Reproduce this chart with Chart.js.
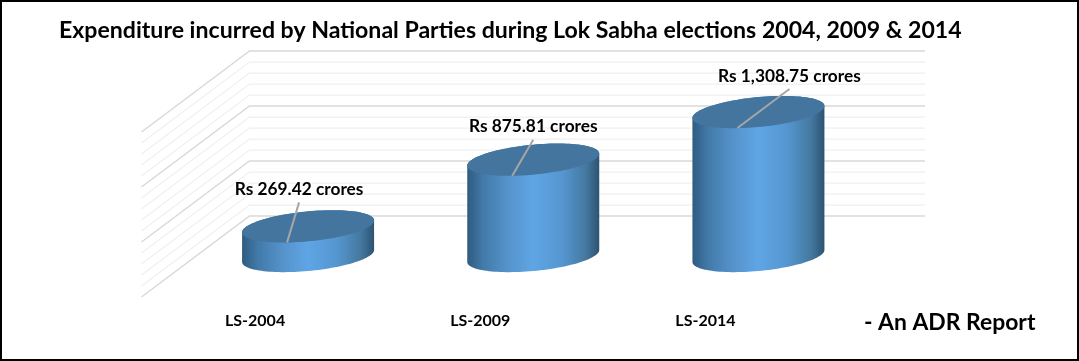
<!DOCTYPE html>
<html>
<head>
<meta charset="utf-8">
<title>Expenditure by National Parties</title>
<script src="https://cdn.jsdelivr.net/npm/chart.js@4"></script>
<style>
  body { margin: 0; background: #fff; }
  canvas { display: block; }
</style>
</head>
<body>
<canvas id="myChart" width="1079" height="361"></canvas>
<script>
const categories = ['LS-2004', 'LS-2009', 'LS-2014'];
const expenditure = [269.42, 875.81, 1308.75];
const valueLabels = ['Rs 269.42 crores', 'Rs 875.81 crores', 'Rs 1,308.75 crores'];
const titleText = 'Expenditure incurred by National Parties during Lok Sabha elections 2004, 2009 & 2014';
const noteText = '- An ADR Report';

const fontName = 'Lato, Carlito, sans-serif';

// the fake 3d look: floor depth, cap shape, and where each leader line ends
const depth = { x: 54, back: 40, front: 41 };
const cap = { tilt: 6, minor: 15 };
const leaderEnds = [[12, -40], [21, -36], [52, -39]];

function bodyGradient(ctx, left, right) {
  const g = ctx.createLinearGradient(left, 0, right, 0);
  g.addColorStop(0, '#2f5b80');
  g.addColorStop(0.12, '#427aa9');
  g.addColorStop(0.3, '#5592ca');
  g.addColorStop(0.5, '#5fa5e5');
  g.addColorStop(0.72, '#5596d0');
  g.addColorStop(0.9, '#44789f');
  g.addColorStop(1, '#2c5372');
  return g;
}

// half ellipse / full ellipse, sheared so that the right side sits higher
function capPoint(cx, cy, a, t) {
  return [cx + a * Math.cos(t), cy - cap.tilt * Math.cos(t) - cap.minor * Math.sin(t)];
}

const wallPlugin = {
  id: 'wall',
  beforeDatasetsDraw(chart) {
    const ctx = chart.ctx;
    const area = chart.chartArea;
    const y = chart.scales.y;
    ctx.save();
    y.ticks.forEach(function(tick) {
      const py = y.getPixelForValue(tick.value);
      const major = tick.value % 500 === 0;
      ctx.strokeStyle = major ? '#d9d9d9' : '#f0f0f0';
      ctx.lineWidth = major ? 1.5 : 1.25;
      ctx.beginPath();
      ctx.moveTo(area.left - depth.x, py + depth.front);
      ctx.lineTo(area.left + depth.x, py - depth.back);
      ctx.lineTo(area.right + depth.x, py - depth.back);
      ctx.stroke();
    });
    ctx.restore();
  }
};

const cylinderPlugin = {
  id: 'cylinder',
  afterDatasetsDraw(chart) {
    const ctx = chart.ctx;
    const bars = chart.getDatasetMeta(0).data;
    ctx.save();
    bars.forEach(function(bar, i) {
      const a = bar.width / 2;
      const steps = 60;
      // side of the cylinder
      ctx.beginPath();
      for (let s = 0; s <= steps; s++) {
        const p = capPoint(bar.x, bar.y, a, Math.PI * s / steps);
        ctx.lineTo(p[0], p[1]);
      }
      for (let s = 0; s <= steps; s++) {
        const p = capPoint(bar.x, bar.base, a, Math.PI + Math.PI * s / steps);
        ctx.lineTo(p[0], p[1]);
      }
      ctx.closePath();
      ctx.fillStyle = bodyGradient(ctx, bar.x - a, bar.x + a);
      ctx.fill();
      // top cap
      ctx.beginPath();
      for (let s = 0; s <= steps * 2; s++) {
        const p = capPoint(bar.x, bar.y, a, Math.PI * s / steps);
        ctx.lineTo(p[0], p[1]);
      }
      ctx.closePath();
      ctx.fillStyle = '#44759f';
      ctx.fill();
      // leader line and value label
      const startX = bar.x - 21;
      const startY = bar.y + 16;
      const end = leaderEnds[i];
      ctx.strokeStyle = '#a6a6a6';
      ctx.lineWidth = 2;
      ctx.beginPath();
      ctx.moveTo(startX, startY);
      ctx.lineTo(startX + end[0], startY + end[1]);
      ctx.stroke();
      ctx.fillStyle = '#000';
      ctx.font = 'bold 17.3px ' + fontName;
      ctx.textAlign = 'center';
      ctx.textBaseline = 'middle';
      ctx.fillText(valueLabels[i], startX + end[0], startY + end[1] - 13);
    });
    ctx.restore();
  }
};

const framePlugin = {
  id: 'frame',
  afterDraw(chart) {
    const ctx = chart.ctx;
    ctx.save();
    ctx.fillStyle = '#000';
    ctx.font = 'bold 22.9px ' + fontName;
    ctx.textAlign = 'left';
    ctx.textBaseline = 'middle';
    ctx.fillText(noteText, 864, 323);
    ctx.strokeStyle = '#000';
    ctx.lineWidth = 2;
    ctx.strokeRect(1, 1, chart.width - 2, chart.height - 2);
    ctx.restore();
  }
};

window.onload = function() {
  const ctx = document.getElementById('myChart').getContext('2d');
  Chart.defaults.font.family = fontName;
  ctx.letterSpacing = '0.3px';
  new Chart(ctx, {
    type: 'bar',
    data: {
      labels: categories,
      datasets: [
        {
          label: 'Expenditure (Rs crores)',
          data: expenditure,
          backgroundColor: 'transparent',
          barThickness: 132,
        },
      ],
    },
    options: {
      responsive: false,
      animation: false,
      layout: { padding: { left: 59, right: 16, top: 0, bottom: 0 } },
      plugins: {
        legend: { display: false },
        tooltip: { enabled: false },
        title: {
          display: true,
          text: titleText,
          align: 'start',
          color: '#000',
          font: { size: 23.1, weight: 'bold' },
          padding: { top: 16.4, bottom: 46.88 },
        },
      },
      scales: {
        x: {
          grid: { display: false },
          border: { display: false },
          ticks: {
            color: '#000',
            font: { size: 16, weight: 'bold' },
            padding: 47,
            labelOffset: -53,
            maxRotation: 0,
          },
          afterFit(scale) { scale.height = 105; },
        },
        y: {
          min: 0,
          max: 1500,
          grid: { display: false },
          border: { display: false },
          ticks: { display: false, stepSize: 100 },
          afterFit(scale) { scale.width = 136.5; },
        },
        // empty axis, only keeps the plot clear of the right side
        rightGap: {
          position: 'right',
          grid: { display: false },
          border: { display: false },
          ticks: { display: false },
          afterFit(scale) { scale.width = 192; },
        },
      },
    },
    plugins: [wallPlugin, cylinderPlugin, framePlugin],
  });
};
</script>
</body>
</html>
